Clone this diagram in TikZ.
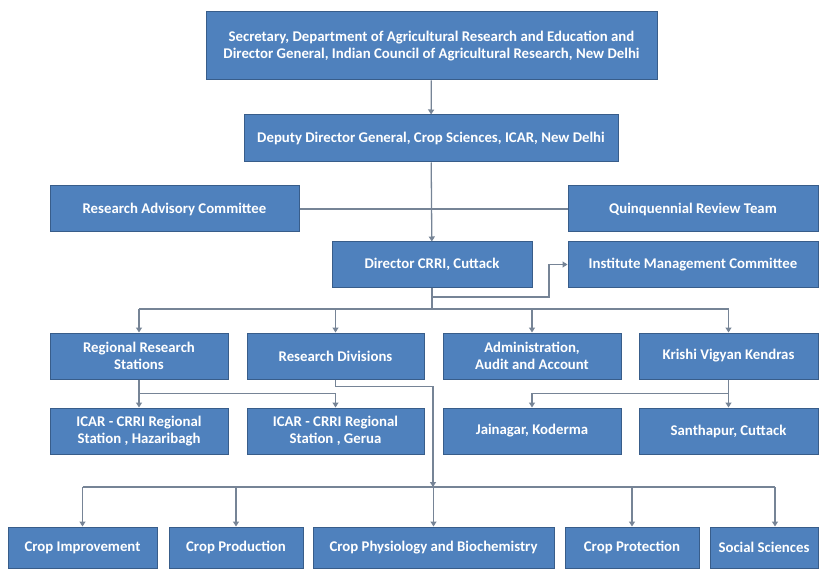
\documentclass[tikz,border=0pt]{standalone}
\usepackage{fontspec}
\setmainfont{Carlito}
\usetikzlibrary{arrows.meta}

\definecolor{boxblue}{RGB}{79,129,189}
\definecolor{boxedge}{RGB}{56,93,138}
\definecolor{linegray}{RGB}{118,132,150}

\begin{document}
\begin{tikzpicture}[x=1pt, y=-1pt,
  box/.style={draw=boxedge, line width=1pt, fill=boxblue, text=white,
    font=\fontsize{14.8}{17}\selectfont\bfseries, align=center, inner sep=0pt,
    minimum height=46pt},
  link/.style={draw=linegray, line width=1.3pt},
  arr/.style={link, -{Triangle[length=5pt,width=6pt]}}]
  \useasboundingbox (0,0) rectangle (832,569);

  % oberste Ebene
  \node[box, minimum width=451pt, minimum height=68pt] (Sec) at (431.5,46)
    {Secretary, Department of Agricultural Research and Education and\\
     Director General, Indian Council of Agricultural Research, New Delhi};
  \node[box, minimum width=374pt, minimum height=47pt] (DDG) at (431,138.5)
    {Deputy Director General, Crop Sciences, ICAR, New Delhi};
  \node[box, minimum width=249pt] (RAC) at (174.5,209) {Research Advisory Committee};
  \node[box, minimum width=250pt] (QRT) at (693,209) {Quinquennial Review Team};
  \node[box, minimum width=200pt, minimum height=45pt] (Dir) at (432,264.5) {Director CRRI, Cuttack};
  \node[box, minimum width=250pt, minimum height=45pt] (IMC) at (693,264.5) {Institute Management Committee};

  % zweite Ebene
  \node[box, minimum width=178pt] (RRS) at (139,356) {Regional Research\\Stations};
  \node[box, minimum width=177pt] (RD)  at (335.5,356) {Research Divisions};
  \node[box, minimum width=178pt] (Adm) at (532,356) {Administration,\\Audit and Account};
  \node[box, minimum width=179pt] (KVK) at (728.5,356) {Krishi Vigyan Kendras};

  % dritte Ebene
  \node[box, minimum width=178pt] (Haz) at (139,431) {ICAR - CRRI Regional\\Station , Hazaribagh};
  \node[box, minimum width=177pt] (Ger) at (335.5,431) {ICAR - CRRI Regional\\Station , Gerua};
  \node[box, minimum width=178pt] (Jai) at (532,431) {Jainagar, Koderma};
  \node[box, minimum width=179pt] (San) at (728.5,431) {Santhapur, Cuttack};

  % Abteilungen
  \node[box, minimum width=149pt, minimum height=41pt] (CI)  at (82.5,547.5) {Crop Improvement};
  \node[box, minimum width=134pt, minimum height=41pt] (CP)  at (236,547.5) {Crop Production};
  \node[box, minimum width=241pt, minimum height=41pt] (CPB) at (433.5,547.5) {Crop Physiology and Biochemistry};
  \node[box, minimum width=134pt, minimum height=41pt] (CPr) at (632,547.5) {Crop Protection};
  \node[box, minimum width=108pt, minimum height=41pt] (SS)  at (764,547.5) {Social Sciences};

  \coordinate (turn) at (549,297);
  \coordinate (bus) at (432,309);
  \coordinate (divbus) at (433,487);
  \coordinate (SSin) at ([xshift=11pt]SS.north);

  \draw[arr] (Sec) -- (DDG);
  \draw[arr] (DDG) -- (Dir);
  \draw[link] (RAC) -- (QRT);
  \draw[arr] (Dir.south) |- (turn) |- (IMC.west);

  \draw[link] (Dir.south) -- (Dir.south |- bus);
  \draw[link] (RRS.north |- bus) -- (KVK.north |- bus);
  \foreach \n in {RRS,RD,Adm,KVK}
    \draw[arr] (\n.north |- bus) -- (\n.north);

  \draw[arr] (RRS) -- (Haz);
  \draw[arr] (RRS.south) ++(0,14) -| (Ger.north);
  \draw[arr] (KVK) -- (San);
  \draw[arr] (KVK.south) ++(0,14) -| (Jai.north);

  \draw[arr] (RD.south) -- ++(0,7) -| (divbus);
  \draw[link] (CI.north |- divbus) -- (SSin |- divbus);
  \foreach \n in {CI,CP,CPB,CPr}
    \draw[arr] (\n.north |- divbus) -- (\n.north);
  \draw[arr] (SSin |- divbus) -- (SSin);
\end{tikzpicture}
\end{document}
